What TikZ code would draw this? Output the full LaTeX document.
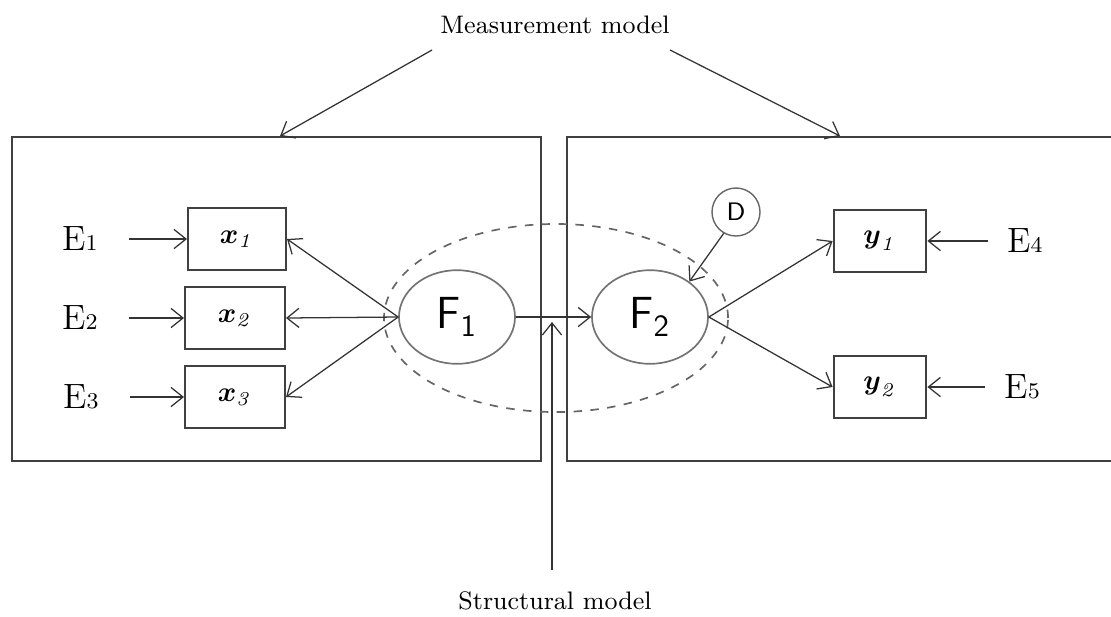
\documentclass[tikz,border=0pt]{standalone}
\usepackage{amsmath, amssymb}
\usepackage{tikz}
\usetikzlibrary{arrows.meta, shapes.geometric}

\tikzset{
  arr/.style={draw=black!80, line width=0.45pt, -{Straight Barb[length=1.5mm, width=2.4mm]}},
  obs/.style={draw=black!75, line width=0.7pt, fill=white, minimum height=0.775cm},
  lat/.style={draw=black!55, line width=0.6pt, ellipse, minimum width=1.45cm, minimum height=1.17cm, font=\fontsize{16}{18}\selectfont\sffamily},
  err/.style={font=\fontsize{12.5}{14}\selectfont, inner sep=1pt},
  frame/.style={draw=black!75, line width=1pt}
}

\begin{document}
\begin{tikzpicture}[x=0.0125cm, y=-0.0125cm]
  \useasboundingbox (0,0) rectangle (1111,616);
  % the two measurement frames
  \draw[frame] (12,137) rectangle (541,461);
  \draw[frame] (1111,137) -- (567,137) -- (567,461) -- (1111,461);
  % structural part
  \node[draw=black!60, dashed, line width=0.6pt, ellipse, minimum width=4.3cm, minimum height=2.35cm] (SE) at (556,318) {};
  \node[lat] (F1) at (457,317) {F$_{\mathsf{1}}$};
  \node[lat] (F2) at (650,317) {F$_{\mathsf{2}}$};
  \node[draw=black!60, circle, line width=0.5pt, minimum size=0.6cm, inner sep=0pt, font=\small\sffamily] (D) at (736,212) {D};
  % indicators
  \node[obs, minimum width=1.225cm] (x1) at (237,239) {$\boldsymbol{x}_{\mathit{1}}$};
  \node[obs, minimum width=1.25cm] (x2) at (235,318) {$\boldsymbol{x}_{\mathit{2}}$};
  \node[obs, minimum width=1.25cm] (x3) at (235,397) {$\boldsymbol{x}_{\mathit{3}}$};
  \node[obs, minimum width=1.16cm] (y1) at (880,241) {$\boldsymbol{y}_{\mathit{1}}$};
  \node[obs, minimum width=1.16cm] (y2) at (880,387) {$\boldsymbol{y}_{\mathit{2}}$};
  % error terms
  \node[err] (E1) at (80,239) {E{\footnotesize 1}};
  \node[err] (E2) at (80,318) {E{\footnotesize 2}};
  \node[err] (E3) at (81,397) {E{\footnotesize 3}};
  \node[err] (E4) at (1025,241) {E{\footnotesize 4}};
  \node[err] (E5) at (1022,387) {E{\footnotesize 5}};
  % labels
  \node[font=\fontsize{9}{11}\selectfont] (MM) at (555,25) {Measurement model};
  \node[font=\fontsize{9}{11}\selectfont] (SM) at (555,601) {Structural model};
  \coordinate (mA) at (432,50);
  \coordinate (mB) at (670,50);
  \coordinate (mL) at (280,136);
  \coordinate (mR) at (840,136);
  \coordinate (sT) at (552,322);
  % connectors
  \draw[arr, shorten <=0.35cm] (E1.east) -- (x1.west);
  \draw[arr, shorten <=0.35cm] (E2.east) -- (x2.west);
  \draw[arr, shorten <=0.35cm] (E3.east) -- (x3.west);
  \draw[arr, shorten <=0.2cm] (E4.west) -- (y1.east);
  \draw[arr, shorten <=0.2cm] (E5.west) -- (y2.east);
  \draw[arr] (F1.west) -- (x1.east);
  \draw[arr] (F1.west) -- (x2.east);
  \draw[arr] (F1.west) -- (x3.east);
  \draw[arr] (F2.east) -- (y1.west);
  \draw[arr] (F2.east) -- (y2.west);
  \draw[arr] (F1.east) -- (F2.west);
  \draw[arr] (D.240) -- (F2.42);
  \draw[arr] (mA) -- (mL);
  \draw[arr] (mB) -- (mR);
  \draw[arr, shorten <=1.5mm] (SM.north -| sT) -- (sT);
\end{tikzpicture}
\end{document}
